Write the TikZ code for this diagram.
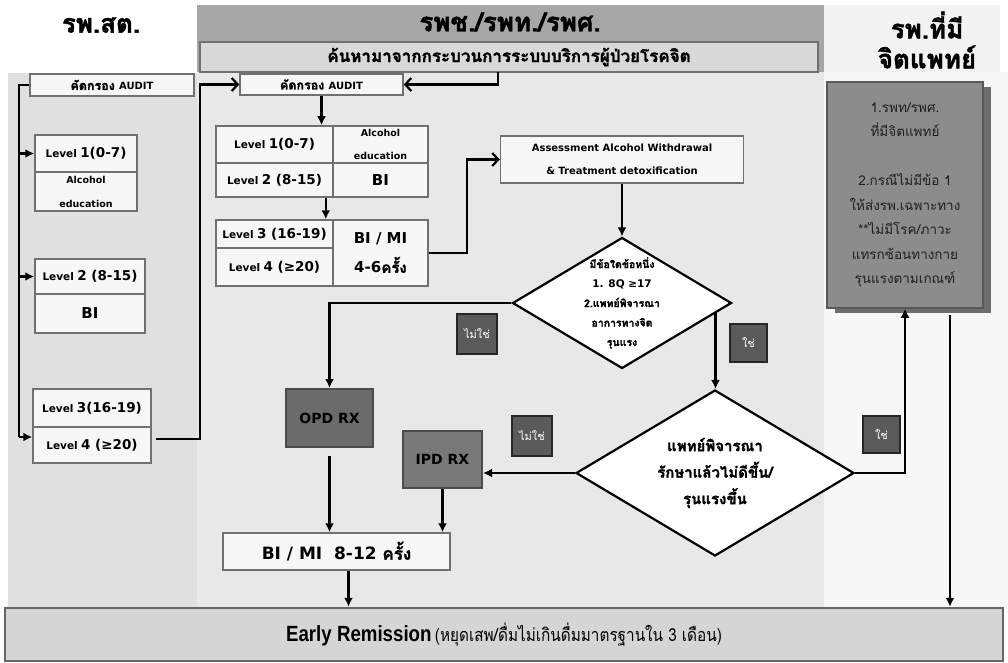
\documentclass[tikz,border=0pt]{standalone}
\usepackage{fontspec}
\setmainfont[Script=Thai]{Loma}
\newfontfamily\thh[Script=Thai,BoldFeatures={FakeBold=1.6}]{Loma}
\newfontfamily\thn[Script=Thai,FakeStretch=0.85]{Loma}
\newfontfamily\lat{DejaVu Sans}
\newfontfamily\latn[FakeStretch=0.85]{Liberation Sans}
\newfontfamily\sym{DejaVu Sans}
\usetikzlibrary{arrows.meta,shapes.geometric,calc,shadows}

\definecolor{bgL}{HTML}{E0E0E0}
\definecolor{bgM}{HTML}{E8E8E8}
\definecolor{bgR}{HTML}{F7F7F7}
\definecolor{hdM}{HTML}{A6A6A6}
\definecolor{hdR}{HTML}{F2F2F2}
\definecolor{subfill}{HTML}{D9D9D9}
\definecolor{edge}{HTML}{707070}
\definecolor{cell}{HTML}{F7F7F7}
\definecolor{tagfill}{HTML}{5A5A5A}
\definecolor{rxfill}{HTML}{6B6B6B}
\definecolor{rxfillb}{HTML}{787878}
\definecolor{reffill}{HTML}{8C8C8C}
\definecolor{refshade}{HTML}{6E6E6E}
\definecolor{reftext}{HTML}{1F1F1F}
\definecolor{outfill}{HTML}{D5D5D5}

% "Level n (a-b)" labels: small bold word, larger range
\newcommand\lv[1]{{\lat\bfseries\fontsize{10.5}{12}\selectfont Level}\ {\lat\bfseries\fontsize{13.5}{15}\selectfont #1}}
\newcommand\gte{{\sym\bfseries ≥}}
\newcommand\hfont{\thh\bfseries\fontsize{26}{30}\selectfont}

\tikzset{
  cellbox/.style={draw=edge, line width=1.5pt, fill=cell, inner sep=0pt, align=center},
  tagbox/.style={draw=black!85, line width=1.2pt, fill=tagfill, text=white,
    minimum width=39pt, minimum height=39pt, inner sep=0pt,
    font=\fontsize{11}{12}\selectfont},
  rxbox/.style={draw=black!70, line width=2pt, fill=rxfill, inner sep=0pt,
    font=\lat\bfseries\fontsize{14}{16}\selectfont},
  decision/.style={diamond, draw=black, line width=2.2pt, fill=white, inner sep=0pt},
  link/.style={line width=2.2pt, draw=black},
  arr/.style={link, -{Latex[length=9pt,width=9pt]}},
  barb/.style={link, -{Straight Barb[length=6pt,width=13pt,line width=2.2pt]}},
  auditfont/.style={font=\thh\bfseries\fontsize{12.5}{13}\selectfont},
}

\begin{document}
\begin{tikzpicture}[x=1pt,y=-1pt]
\useasboundingbox (0,0) rectangle (1008,663);

% column backgrounds
\fill[bgL] (8,73) rectangle (197,608);
\fill[bgM] (197,72) rectangle (824,608);
\fill[hdM] (197,5) rectangle (824,72);
\fill[hdR] (824,5) rectangle (1000,72);
\fill[bgR] (824,72) rectangle (1008,608);

% column headings
\node[font=\hfont] (hL) at (101,25) {รพ.สต.};
\node[font=\hfont] (hM) at (510,22) {รพช./รพท./รพศ.};
\node[align=center, font=\hfont] (hR) at (927,40) {รพ.ที่มี\\จิตแพทย์};
\node[draw=edge, line width=1.5pt, fill=subfill, minimum width=618pt, minimum height=30pt,
      inner sep=0pt, font=\thh\bfseries\fontsize{17}{18}\selectfont] (search) at (509,57)
      {ค้นหามาจากกระบวนการระบบบริการผู้ป่วยโรคจิต};

% sub-district hospital column
\node[cellbox, minimum width=164pt, minimum height=22pt, auditfont]
  (auditL) at (112,85) {คัดกรอง {\lat\bfseries\fontsize{10}{11}\selectfont AUDIT}};
\node[cellbox, minimum width=102pt, minimum height=37pt] (l1) at (86,153.5) {\lv{1(0-7)}};
\node[cellbox, minimum width=102pt, minimum height=39pt, font=\lat\bfseries\fontsize{9.5}{24}\selectfont]
  (l1e) at (86,191.5) {Alcohol\\education};
\node[cellbox, minimum width=110pt, minimum height=35pt] (l2) at (90,276.5) {\lv{2 (8-15)}};
\node[cellbox, minimum width=110pt, minimum height=39pt, font=\lat\bfseries\fontsize{15}{17}\selectfont]
  (l2b) at (90,313.5) {BI};
\node[cellbox, minimum width=118pt, minimum height=38pt] (l3) at (92,408) {\lv{3(16-19)}};
\node[cellbox, minimum width=118pt, minimum height=36pt] (l4) at (92,445) {\lv{4 (\gte20)}};

% community / general hospital column
\node[cellbox, minimum width=163pt, minimum height=21pt, auditfont]
  (auditM) at (321.5,84.5) {คัดกรอง {\lat\bfseries\fontsize{10}{11}\selectfont AUDIT}};
\node[cellbox, minimum width=117pt, minimum height=37pt] (t1a) at (274.5,144.5) {\lv{1(0-7)}};
\node[cellbox, minimum width=95pt, minimum height=37pt, font=\lat\bfseries\fontsize{9.5}{23}\selectfont]
  (t1b) at (380.5,144.5) {Alcohol\\education};
\node[cellbox, minimum width=117pt, minimum height=34pt] (t2a) at (274.5,180) {\lv{2 (8-15)}};
\node[cellbox, minimum width=95pt, minimum height=34pt, font=\lat\bfseries\fontsize{15}{17}\selectfont]
  (t2b) at (380.5,180) {BI};
\node[cellbox, minimum width=117pt, minimum height=28pt] (t3a) at (274.5,234) {\lv{3 (16-19)}};
\node[cellbox, minimum width=117pt, minimum height=38pt] (t4a) at (274.5,267) {\lv{4 (\gte20)}};
\node[cellbox, minimum width=95pt, minimum height=66pt, font=\thh\bfseries\fontsize{15}{29}\selectfont]
  (t34b) at (380.5,253) {{\lat BI / MI}\\{\lat 4-6}ครั้ง};

\node[cellbox, minimum width=243pt, minimum height=47pt, font=\lat\bfseries\fontsize{10}{23}\selectfont]
  (assess) at (622,159.5) {Assessment Alcohol Withdrawal\\\& Treatment detoxification};

\node[decision, minimum width=219pt, minimum height=131pt] (d1) at (622,303) {};
\node[align=center, font=\thh\bfseries\fontsize{10.5}{19.5}\selectfont] (d1t) at (d1.center)
  {มีข้อใดข้อหนึ่ง\\{\lat 1. 8Q }\gte{\lat 17}\\2.แพทย์พิจารณา\\อาการทางจิต\\รุนแรง};

\node[rxbox, minimum width=87pt, minimum height=58pt] (opd) at (329.5,418) {OPD RX};
\node[rxbox, fill=rxfillb, minimum width=79pt, minimum height=57pt] (ipd) at (442.5,459.5) {IPD RX};

\node[decision, minimum width=278pt, minimum height=166pt] (d2) at (715,473) {};
\node[align=center, font=\thh\bfseries\fontsize{15}{26.5}\selectfont] (d2t) at (d2.center)
  {แพทย์พิจารณา\\รักษาแล้วไม่ดีขึ้น/\\รุนแรงขึ้น};

\node[tagbox, minimum width=40pt, minimum height=40pt] (no1) at (477,334) {ไม่ใช่};
\node[tagbox, minimum width=37pt, minimum height=38pt] (yes1) at (748.5,343) {ใช่};
\node[tagbox, minimum width=40pt, minimum height=40pt] (no2) at (532,436) {ไม่ใช่};
\node[tagbox, minimum width=37pt, minimum height=37pt] (yes2) at (881.5,434.5) {ใช่};

\node[cellbox, minimum width=227pt, minimum height=37pt, font=\thh\bfseries\fontsize{17}{18}\selectfont]
  (bm) at (336.5,551.5) {{\lat BI / MI~~8-12} ครั้ง};

% psychiatric hospital column
\node[draw=black!65, line width=1.5pt, fill=reffill, text=reftext, align=center,
      minimum width=156pt, minimum height=226pt, inner sep=0pt,
      font=\fontsize{13.5}{24.5}\selectfont,
      drop shadow={shadow xshift=8pt, shadow yshift=-5pt, fill=refshade, opacity=1}]
  (rb) at (905,195) {1.รพท/รพศ.\\ที่มีจิตแพทย์\\[24.5pt]2.กรณีไม่มีข้อ 1\\ให้ส่งรพ.เฉพาะทาง\\**ไม่มีโรค/ภาวะ\\แทรกซ้อนทางกาย\\รุนแรงตามเกณฑ์};

% outcome
\node[draw=black!60, line width=2.5pt, fill=outfill, minimum width=998pt, minimum height=53pt, inner sep=0pt]
  (er) at (504,634.5) {{\latn\bfseries\fontsize{22}{24}\selectfont Early Remission}\ {\thn\fontsize{18}{20}\selectfont(หยุดเสพ/ดื่มไม่เกินดื่มมาตรฐานใน 3 เดือน)}};

% connectors: sub-district screening
\coordinate (trunkTop) at (19,85);
\coordinate (trunkBot) at (19,437);
\draw[link] (auditL.west) -- (trunkTop) -- (trunkBot);
\draw[arr] (trunkTop |- l1.west) -- (l1.west);
\draw[arr] (trunkTop |- l2.west) -- (l2.west);
\draw[arr] (trunkBot) -- (trunkBot -| l4.west);
\coordinate (l4out) at ($(l4.east)+(4,-6)$);
\coordinate (riser) at (200,439);
\draw[barb] (l4out) -- (riser) |- (auditM.west);

% connectors: hospital pathway
\coordinate (srcpt) at (498,72);
\draw[barb] (srcpt) |- (auditM.east);
\draw[arr] (auditM.south) -- (auditM.south |- t1a.north);
\coordinate (t2out) at ($(t2a.south east)+(-8,0)$);
\draw[arr] (t2out) -- (t2out |- t3a.north);
\coordinate (jog) at (467,253);
\draw[barb] (t34b.east) -- (jog) |- (assess.west);
\draw[arr] (assess.south) -- (d1.north);
\draw[arr] (d1.west) -| (opd.north);
\coordinate (d1out) at ($(d1.east)!0.155!(d1.south)$);
\draw[arr] (d1out) -- (d1out |- d2.north);
\draw[arr] (d2.west) -- (d2.west -| ipd.east);
\draw[arr] (d2.east) -| (rb.south);
\coordinate (opdout) at ($(opd.south)+(0,8)$);
\draw[arr] (opdout) -- (opdout |- bm.north);
\draw[arr] (ipd.south) -- (ipd.south |- bm.north);
\coordinate (bmout) at ($(bm.south)+(12,0)$);
\draw[arr] (bmout) -- (bmout |- er.north);
\coordinate (rline) at (950,315);
\draw[arr] (rline) -- (rline |- er.north);
\end{tikzpicture}
\end{document}
